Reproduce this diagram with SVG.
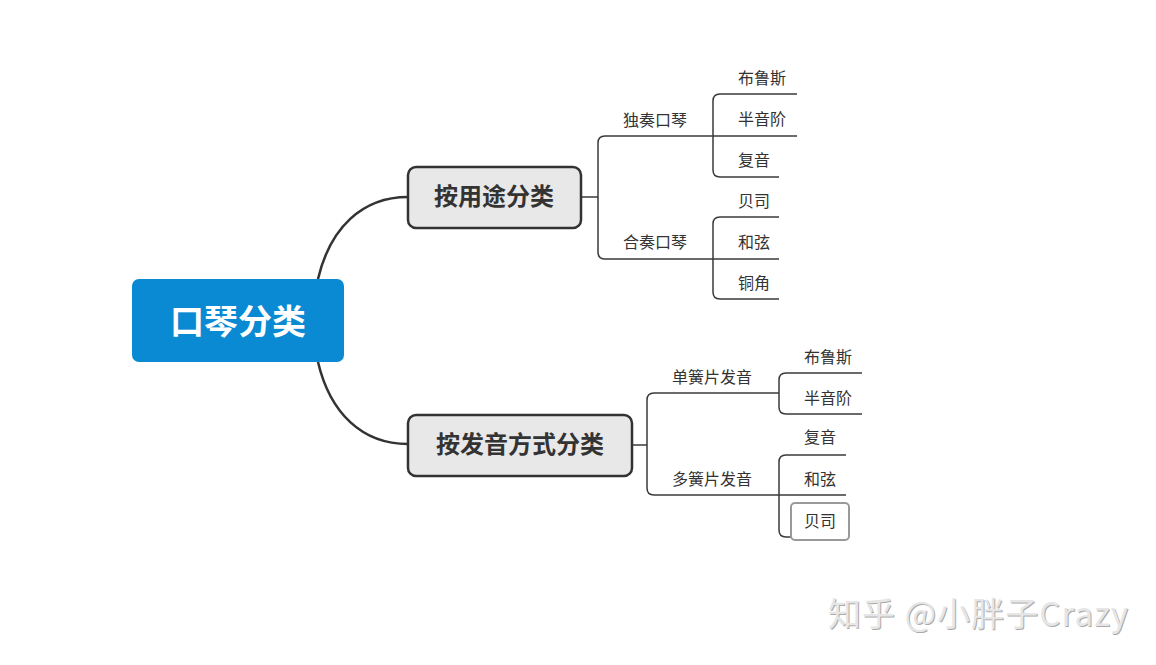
<svg xmlns="http://www.w3.org/2000/svg" width="1156" height="665" viewBox="0 0 1156 665">
<style>
.c{fill:none;stroke:#333;stroke-width:2.5}
.t{fill:none;stroke:#3a3a3a;stroke-width:1.5}
.s{font-family:"Noto Sans CJK SC","Noto Sans",sans-serif;font-size:16px;fill:#333}
.b{font-family:"Noto Sans CJK SC","Noto Sans",sans-serif;font-size:24px;font-weight:bold;fill:#333;text-anchor:middle}
.box{fill:#e8e8e8;stroke:#333;stroke-width:2.5}
</style>
<rect width="1156" height="665" fill="#fff"/>
<g id="connectors">
<path class="c" d="M318,279 C330,228 362,197 408,197"/>
<path class="c" d="M318,362 C330,413 362,444 408,444"/>
<path class="t" d="M581,197 H598"/>
<path class="t" d="M713,136 H605 Q598,136 598,143 V252 Q598,259 605,259 H713"/>
<path class="t" d="M797,94 H720 Q713,94 713,101 V170 Q713,177 720,177 H779"/>
<path class="t" d="M713,136 H797"/>
<path class="t" d="M779,217 H720 Q713,217 713,224 V292 Q713,299 720,299 H779"/>
<path class="t" d="M713,259 H779"/>
<path class="t" d="M632,445 H647"/>
<path class="t" d="M779,393 H654 Q647,393 647,400 V488 Q647,495 654,495 H779"/>
<path class="t" d="M862,373 H786 Q779,373 779,380 V407 Q779,414 786,414 H862"/>
<path class="t" d="M846,455 H786 Q779,455 779,462 V530 Q779,537 786,537 H791"/>
<path class="t" d="M779,495 H846"/>
</g>
<g id="root">
<rect x="132" y="279" width="212" height="83" rx="7" fill="#0a8ad3"/>
<text x="238" y="334" font-family="'Noto Sans CJK SC',sans-serif" font-size="34" font-weight="bold" fill="#fff" text-anchor="middle">口琴分类</text>
</g>
<g id="n-yongtu">
<rect class="box" x="408" y="167" width="173" height="61" rx="8"/>
<text class="b" x="494" y="205">按用途分类</text>
</g>
<g id="n-fayin">
<rect class="box" x="408" y="415" width="224" height="61" rx="8"/>
<text class="b" x="520" y="453">按发音方式分类</text>
</g>
<g id="n-duzou"><text class="s" x="623" y="126">独奏口琴</text></g>
<g id="n-hezou"><text class="s" x="623" y="248">合奏口琴</text></g>
<g id="n-d1"><text class="s" x="738" y="84">布鲁斯</text></g>
<g id="n-d2"><text class="s" x="738" y="125">半音阶</text></g>
<g id="n-d3"><text class="s" x="738" y="166">复音</text></g>
<g id="n-h1"><text class="s" x="738" y="207">贝司</text></g>
<g id="n-h2"><text class="s" x="738" y="248">和弦</text></g>
<g id="n-h3"><text class="s" x="738" y="289">铜角</text></g>
<g id="n-dan"><text class="s" x="672" y="383">单簧片发音</text></g>
<g id="n-duo"><text class="s" x="672" y="485">多簧片发音</text></g>
<g id="n-s1"><text class="s" x="804" y="363">布鲁斯</text></g>
<g id="n-s2"><text class="s" x="804" y="404">半音阶</text></g>
<g id="n-m1"><text class="s" x="804" y="443">复音</text></g>
<g id="n-m2"><text class="s" x="804" y="485">和弦</text></g>
<g id="n-m3">
<rect x="791" y="503" width="58" height="37" rx="4" fill="none" stroke="#999" stroke-width="2"/>
<text class="s" x="804" y="527">贝司</text>
</g>
<g id="watermark" font-family="'Noto Sans CJK SC',sans-serif" font-size="33">
<text x="829" y="627" fill="#aaa" textLength="300">知乎 @小胖子Crazy</text>
<text x="828" y="626" fill="#e6e6e6" textLength="300">知乎 @小胖子Crazy</text>
</g>
</svg>
